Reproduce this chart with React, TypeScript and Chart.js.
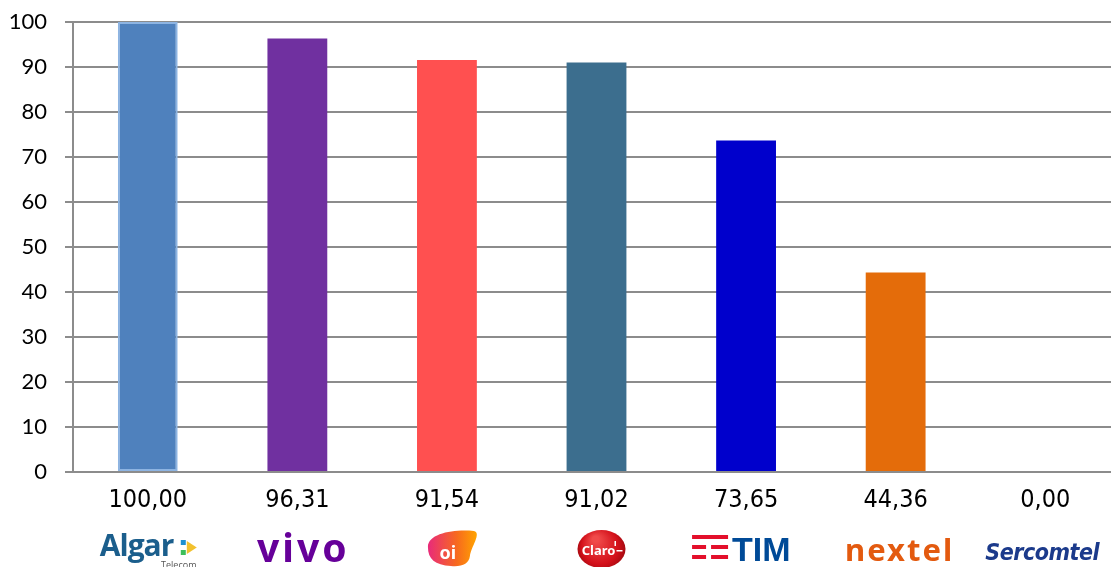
import React, { useEffect, useRef } from "react";
import { Chart, registerables } from "chart.js";

Chart.register(...registerables);

const operators = ["Algar Telecom", "Vivo", "Oi", "Claro", "TIM", "Nextel", "Sercomtel"];
const values = [100.0, 96.31, 91.54, 91.02, 73.65, 44.36, 0.0];
const barColors = ["#4F81BD", "#7030A0", "#FF5050", "#3C6E8E", "#0000CC", "#E46C0A", "#1B3A8B"];
const barBorders = ["#8DB4E2", "#7030A0", "#FF5050", "#3C6E8E", "#0000CC", "#E46C0A", "#1B3A8B"];
const borderWidths = [2, 0, 0, 0, 0, 0, 0];
const yMin = 0;
const yMax = 100;
const yStep = 10;

const fmt = (v: number) => v.toFixed(2).replace(".", ",");

const logoPlugin = {
  id: "logos",
  afterDraw(chart: any) {
    const ctx: any = chart.ctx;
    const xs = chart.scales.x;
    const px = (i: number) => xs.getPixelForValue(i);
    ctx.save();
    ctx.textBaseline = "alphabetic";
    ctx.textAlign = "center";

    // Algar Telecom
    {
      const cx = px(0);
      ctx.fillStyle = "#1B5E8C";
      ctx.font = "bold 30px 'Open Sans', 'DejaVu Sans', sans-serif";
      ctx.textAlign = "left";
      ctx.letterSpacing = "-1px";
      ctx.fillText("Algar", cx - 48, 556);
      ctx.letterSpacing = "0px";
      const ax = cx + 33;
      ctx.fillStyle = "#1E90D0";
      ctx.fillRect(ax, 540, 5, 5);
      ctx.fillStyle = "#3DBE5A";
      ctx.fillRect(ax, 550, 5, 5);
      ctx.fillStyle = "#F2C12E";
      ctx.beginPath();
      ctx.moveTo(ax + 6, 541);
      ctx.lineTo(ax + 16, 547.5);
      ctx.lineTo(ax + 6, 554);
      ctx.closePath();
      ctx.fill();
      ctx.fillStyle = "#555555";
      ctx.font = "9px 'Open Sans', sans-serif";
      ctx.textAlign = "center";
      ctx.fillText("Telecom", cx + 31, 568);
    }

    // vivo
    {
      const cx = px(1);
      ctx.fillStyle = "#660099";
      ctx.font = "bold 39px 'Noto Sans', 'Open Sans', sans-serif";
      ctx.textAlign = "center";
      ctx.letterSpacing = "3px";
      ctx.fillText("vivo", cx + 6, 562);
      ctx.letterSpacing = "0px";
    }

    // oi blob
    {
      const cx = px(2);
      const g = ctx.createLinearGradient(cx - 20, 0, cx + 30, 0);
      g.addColorStop(0, "#E8287E");
      g.addColorStop(0.6, "#F76A1E");
      g.addColorStop(1, "#FFA400");
      ctx.fillStyle = g;
      ctx.beginPath();
      ctx.moveTo(cx - 19, 547);
      ctx.bezierCurveTo(cx - 19, 533, cx + 8, 529, cx + 27, 531);
      ctx.bezierCurveTo(cx + 35, 533, cx + 24, 547, cx + 23, 556);
      ctx.bezierCurveTo(cx + 22, 564, cx + 15, 567, cx + 4, 566);
      ctx.bezierCurveTo(cx - 12, 565, cx - 19, 559, cx - 19, 547);
      ctx.closePath();
      ctx.fill();
      ctx.fillStyle = "#FFFFFF";
      ctx.font = "bold 18px 'Noto Sans', sans-serif";
      ctx.textAlign = "center";
      ctx.fillText("oi", cx + 1, 559);
    }

    // Claro
    {
      const cx = px(3) + 5;
      const cy = 549;
      const g = ctx.createRadialGradient(cx - 6, cy - 10, 3, cx, cy, 25);
      g.addColorStop(0, "#F04A4A");
      g.addColorStop(0.7, "#D3101A");
      g.addColorStop(1, "#9E0A10");
      ctx.fillStyle = g;
      ctx.beginPath();
      ctx.ellipse(cx, cy, 24, 19, 0, 0, Math.PI * 2);
      ctx.fill();
      ctx.fillStyle = "#FFFFFF";
      ctx.font = "bold 13px 'Noto Sans', sans-serif";
      ctx.textAlign = "center";
      ctx.fillText("Claro", cx - 3, 555);
      ctx.fillRect(cx + 15, 550, 6, 1.5);
      ctx.fillRect(cx + 13, 541, 1.5, 5);
    }

    // TIM
    {
      const cx = px(4);
      ctx.fillStyle = "#E30F2B";
      const sx = cx - 54;
      ctx.fillRect(sx, 535, 36, 4);
      ctx.fillRect(sx, 545, 14, 4);
      ctx.fillRect(sx + 19, 545, 17, 4);
      ctx.fillRect(sx, 555, 14, 4);
      ctx.fillRect(sx + 19, 555, 17, 4);
      ctx.fillStyle = "#004A97";
      ctx.font = "bold 34px 'Liberation Sans', 'DejaVu Sans', sans-serif";
      ctx.textAlign = "left";
      ctx.fillText("TIM", cx - 14, 561);
    }

    // nextel
    {
      const cx = px(5);
      ctx.fillStyle = "#E35A0F";
      ctx.font = "bold 31px 'Noto Sans', 'Open Sans', sans-serif";
      ctx.textAlign = "center";
      ctx.letterSpacing = "2px";
      ctx.fillText("nextel", cx + 4, 561);
      ctx.letterSpacing = "0px";
    }

    // Sercomtel
    {
      const cx = px(6);
      ctx.fillStyle = "#1B3A8B";
      ctx.font = "italic bold 23px 'DejaVu Sans Condensed', 'Liberation Sans', sans-serif";
      ctx.textAlign = "center";
      ctx.letterSpacing = "-0.5px";
      ctx.fillText("Sercomtel", cx - 3, 560);
      ctx.letterSpacing = "0px";
    }

    ctx.restore();
  },
};

export default function App() {
  const canvasRef = useRef<HTMLCanvasElement | null>(null);

  useEffect(() => {
    if (!canvasRef.current) return;
    const chart = new Chart(canvasRef.current, {
      type: "bar",
      data: {
        labels: operators,
        datasets: [
          {
            data: values,
            backgroundColor: barColors,
            borderColor: barBorders,
            borderWidth: borderWidths,
            borderSkipped: false,
            barPercentage: 0.4,
            categoryPercentage: 1,
          },
        ],
      },
      options: {
        animation: false,
        responsive: true,
        maintainAspectRatio: false,
        layout: { padding: { top: 22, right: 5, bottom: 0, left: 0 } },
        plugins: {
          legend: { display: false },
          tooltip: { enabled: false },
        },
        scales: {
          x: {
            grid: { display: false, drawTicks: false },
            border: { display: false },
            ticks: {
              color: "#000000",
              padding: 13,
              font: { family: "'DejaVu Sans Condensed', 'Liberation Sans', sans-serif", size: 25 },
              callback: (_v: any, i: number) => fmt(values[i]),
              maxRotation: 0,
              autoSkip: false,
            },
            afterFit: (scale: any) => {
              scale.height = 95;
            },
          },
          y: {
            min: yMin,
            max: yMax,
            ticks: {
              stepSize: yStep,
              color: "#000000",
              padding: 18,
              font: { family: "Lato, 'Open Sans', sans-serif", size: 22 },
            },
            grid: {
              color: "#8C8C8C",
              lineWidth: 2,
              tickLength: 8,
              drawTicks: true,
            },
            border: { display: true, color: "#8C8C8C", width: 2 },
            afterFit: (scale: any) => {
              scale.width = 73;
              scale.paddingTop = 0;
              scale.paddingBottom = 0;
            },
          },
        },
      },
      plugins: [logoPlugin],
    });
    return () => chart.destroy();
  }, []);

  return (
    <div style={{ position: "fixed", left: 0, top: 0, width: 1111, height: 567, overflow: "hidden", background: "#fff" }}>
      <div style={{ position: "absolute", left: 0, top: 0, width: 1125, height: 567 }}>
        <canvas ref={canvasRef} />
      </div>
    </div>
  );
}
